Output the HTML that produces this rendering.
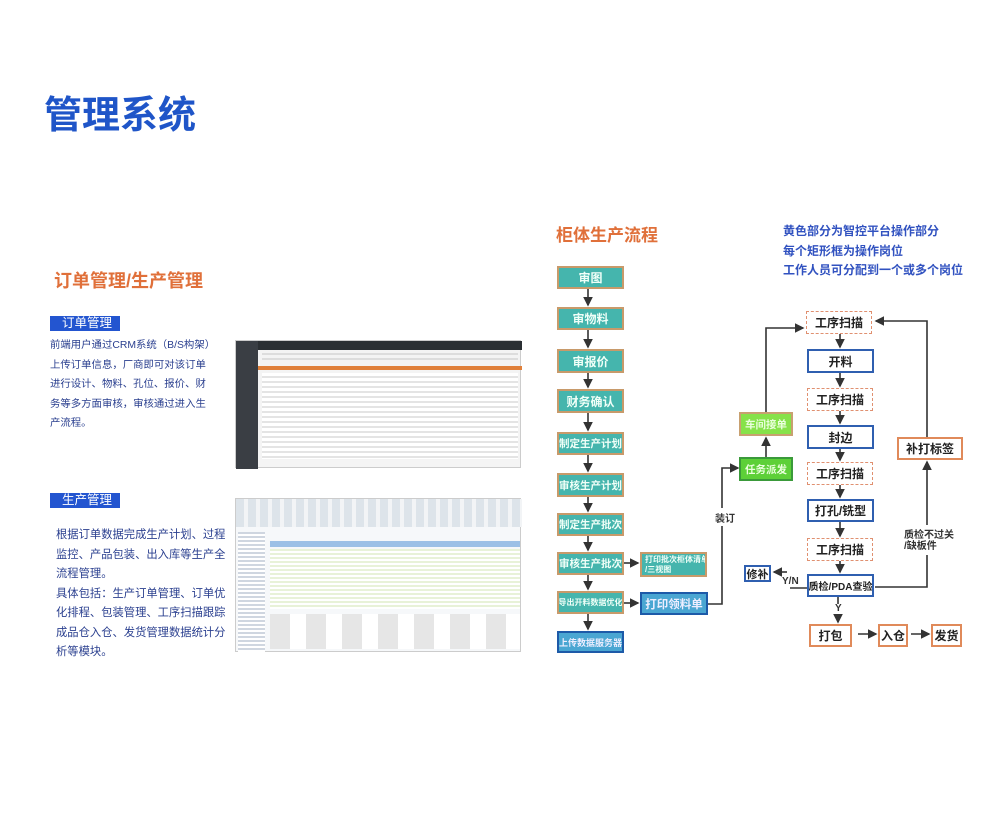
<!DOCTYPE html>
<html><head><meta charset="utf-8"><style>
*{margin:0;padding:0;box-sizing:border-box}
body{width:1000px;height:833px;background:#fff;position:relative;overflow:hidden;font-family:"Liberation Sans","Noto Sans CJK SC",sans-serif}
.a{position:absolute}
.t{position:absolute;white-space:nowrap}
.b{position:absolute;display:flex;align-items:center;justify-content:center;font-weight:bold;white-space:nowrap;overflow:hidden}
.tl{background:#45b5ad;border:2px solid #c89a6a;color:#f0fff8;font-size:11px}
.bl{background:#4aa6d2;border:2px solid #1d5aa8;color:#eef;font-size:11px}
.wb{background:#fff;border:2px solid #2f5fb0;color:#222;font-size:12px}
.wd{background:#fff;border:1.5px dashed #e09070;color:#222;font-size:12px}
.wo{background:#fff;border:2px solid #e08a5a;color:#222;font-size:12px}
.p{font-size:11.3px;color:#2a3f8f;line-height:19.5px;white-space:nowrap}
.bar{background:#2355d0;color:#fff;font-size:12.5px;padding-left:12px;line-height:15px}
</style></head><body>
<div class="t" style="left:44px;top:84px;font-size:38px;font-weight:bold;color:#1f55c8">管理系统</div>
<div class="t" style="left:54px;top:267px;font-size:18px;font-weight:bold;color:#e0703a">订单管理/生产管理</div>
<div class="a bar" style="left:50px;top:316px;width:70px;height:15px">订单管理</div>
<div class="a p" style="left:50px;top:336px;font-size:10.4px">前端用户通过CRM系统（B/S构架）<br>上传订单信息，厂商即可对该订单<br>进行设计、物料、孔位、报价、财<br>务等多方面审核，审核通过进入生<br>产流程。</div>
<div class="a bar" style="left:50px;top:493px;width:70px;height:15px">生产管理</div>
<div class="a p" style="left:56px;top:526px">根据订单数据完成生产计划、过程<br>监控、产品包装、出入库等生产全<br>流程管理。<br>具体包括：生产订单管理、订单优<br>化排程、包装管理、工序扫描跟踪<br>成品仓入仓、发货管理数据统计分<br>析等模块。</div>

<!-- screenshot 1 -->
<div class="a" style="left:235px;top:340px;width:286px;height:128px;background:#f4f4f4;border:1px solid #ccc">
<div class="a" style="left:0;top:0;width:286px;height:9px;background:#2b2f33"></div>
<div class="a" style="left:0;top:0;width:22px;height:128px;background:#3a3e44"></div>
<div class="a" style="left:22px;top:25px;width:264px;height:4px;background:#e0803a"></div>
<div class="a" style="left:26px;top:32px;width:256px;height:86px;background:repeating-linear-gradient(#fff 0 3px,#e4e4e4 3px 5px)"></div>
<div class="a" style="left:26px;top:12px;width:256px;height:10px;background:repeating-linear-gradient(#ddd 0 2px,#f4f4f4 2px 5px)"></div>
</div>
<!-- screenshot 2 -->
<div class="a" style="left:235px;top:498px;width:286px;height:154px;background:#f6f8fa;border:1px solid #ccc">
<div class="a" style="left:0;top:0;width:286px;height:28px;background:repeating-linear-gradient(90deg,#dde4ea 0 8px,#f2f4f6 8px 12px)"></div>
<div class="a" style="left:2px;top:33px;width:27px;height:120px;background:repeating-linear-gradient(#cfd6e0 0 2px,#fff 2px 4px)"></div>
<div class="a" style="left:34px;top:42px;width:250px;height:6px;background:#9cc0e6"></div>
<div class="a" style="left:34px;top:50px;width:250px;height:60px;background:repeating-linear-gradient(#e8f2d8 0 2px,#fff 2px 4px)"></div>
<div class="a" style="left:34px;top:115px;width:250px;height:35px;background:repeating-linear-gradient(90deg,#e6e6e6 0 20px,#fff 20px 36px)"></div>
</div>

<div class="t" style="left:556px;top:221px;font-size:17px;font-weight:bold;color:#e0703a">柜体生产流程</div>
<div class="t" style="left:783px;top:222px;font-size:12px;font-weight:bold;color:#3152c0;line-height:19.5px">黄色部分为智控平台操作部分<br>每个矩形框为操作岗位<br>工作人员可分配到一个或多个岗位</div>

<svg class="a" style="left:0;top:0" width="1000" height="833">
<defs><marker id="m" markerWidth="6" markerHeight="6" refX="5" refY="3" orient="auto"><path d="M0,0L6,3L0,6z" fill="#333"/></marker></defs>
<g stroke="#333" stroke-width="1.6" fill="none" marker-end="url(#m)">
<line x1="588" y1="289" x2="588" y2="305"/><line x1="588" y1="330" x2="588" y2="347"/><line x1="588" y1="373" x2="588" y2="387"/><line x1="588" y1="413" x2="588" y2="430"/><line x1="588" y1="455" x2="588" y2="471"/><line x1="588" y1="497" x2="588" y2="511"/><line x1="588" y1="536" x2="588" y2="550"/><line x1="588" y1="575" x2="588" y2="589"/><line x1="588" y1="614" x2="588" y2="629"/>
<line x1="624" y1="563" x2="638" y2="563"/><line x1="624" y1="603" x2="638" y2="603"/>
<polyline points="708,604 722,604 722,468 738,468"/>
<line x1="766" y1="457" x2="766" y2="438"/>
<polyline points="766,412 766,328 803,328"/>
<line x1="840" y1="334" x2="840" y2="347"/><line x1="840" y1="373" x2="840" y2="386"/><line x1="840" y1="411" x2="840" y2="423"/><line x1="840" y1="449" x2="840" y2="460"/><line x1="840" y1="485" x2="840" y2="497"/><line x1="840" y1="522" x2="840" y2="536"/><line x1="840" y1="561" x2="840" y2="572"/>
<line x1="838" y1="597" x2="838" y2="622"/>
<line x1="787" y1="572" x2="774" y2="572"/>
<polyline points="875,587 927,587 927,462"/>
<polyline points="927,437 927,321 876,321"/>
<line x1="858" y1="634" x2="876" y2="634"/><line x1="911" y1="634" x2="929" y2="634"/>
</g>
<line x1="790" y1="588" x2="807" y2="588" stroke="#333" stroke-width="1.6"/>
<rect x="716" y="508" width="14" height="18" fill="#fff"/>
<rect x="900" y="525" width="50" height="30" fill="#fff"/>
<rect x="832" y="604" width="12" height="10" fill="#fff"/>
</svg>
<div class="t" style="left:715px;top:510px;font-size:10px;font-weight:bold;color:#333">装订</div>
<div class="t" style="left:904px;top:530px;font-size:10px;font-weight:bold;color:#333;line-height:11px">质检不过关<br>/缺板件</div>
<div class="t" style="left:835px;top:603px;font-size:10px;font-weight:bold;color:#333">Y</div>
<div class="t" style="left:782px;top:576px;font-size:10px;font-weight:bold;color:#333">Y/N</div>

<div class="b tl" style="left:557px;top:266px;width:67px;height:23px;font-size:12px">审图</div>
<div class="b tl" style="left:557px;top:307px;width:67px;height:23px;font-size:12px">审物料</div>
<div class="b tl" style="left:557px;top:349px;width:67px;height:24px;font-size:12px">审报价</div>
<div class="b tl" style="left:557px;top:389px;width:67px;height:24px;font-size:12px">财务确认</div>
<div class="b tl" style="left:557px;top:432px;width:67px;height:23px;font-size:10.5px">制定生产计划</div>
<div class="b tl" style="left:557px;top:473px;width:67px;height:24px;font-size:10.5px">审核生产计划</div>
<div class="b tl" style="left:557px;top:513px;width:67px;height:23px;font-size:10.5px">制定生产批次</div>
<div class="b tl" style="left:557px;top:552px;width:67px;height:23px;font-size:10.5px">审核生产批次</div>
<div class="b tl" style="left:557px;top:591px;width:67px;height:23px;font-size:8px">导出开料数据优化</div>
<div class="b bl" style="left:557px;top:631px;width:67px;height:22px;font-size:9px">上传数据服务器</div>
<div class="b tl" style="left:640px;top:552px;width:67px;height:25px;font-size:8px;line-height:10px;justify-content:flex-start;padding-left:3px;text-align:left">打印批次柜体清单<br>/三视图</div>
<div class="b bl" style="left:640px;top:592px;width:68px;height:23px;font-size:11.5px">打印领料单</div>
<div class="b" style="left:739px;top:412px;width:54px;height:24px;background:#86e24a;border:2px solid #c8a070;color:#eaffdd;font-size:10.5px">车间接单</div>
<div class="b" style="left:739px;top:457px;width:54px;height:24px;background:#5dd038;border:2px solid #3a9a3a;color:#eaffdd;font-size:10.5px">任务派发</div>

<div class="b wd" style="left:806px;top:311px;width:66px;height:23px">工序扫描</div>
<div class="b wb" style="left:807px;top:349px;width:67px;height:24px">开料</div>
<div class="b wd" style="left:807px;top:388px;width:66px;height:23px">工序扫描</div>
<div class="b wb" style="left:807px;top:425px;width:67px;height:24px">封边</div>
<div class="b wd" style="left:807px;top:462px;width:66px;height:23px">工序扫描</div>
<div class="b wb" style="left:807px;top:499px;width:67px;height:23px">打孔/铣型</div>
<div class="b wd" style="left:807px;top:538px;width:66px;height:23px">工序扫描</div>
<div class="b wb" style="left:807px;top:574px;width:67px;height:23px;font-size:10px">质检/PDA查验</div>
<div class="b wb" style="left:744px;top:565px;width:27px;height:17px;font-size:11px">修补</div>
<div class="b wo" style="left:897px;top:437px;width:66px;height:23px">补打标签</div>
<div class="b wo" style="left:809px;top:624px;width:43px;height:23px">打包</div>
<div class="b wo" style="left:878px;top:624px;width:30px;height:23px">入仓</div>
<div class="b wo" style="left:931px;top:624px;width:31px;height:23px">发货</div>
</body></html>
